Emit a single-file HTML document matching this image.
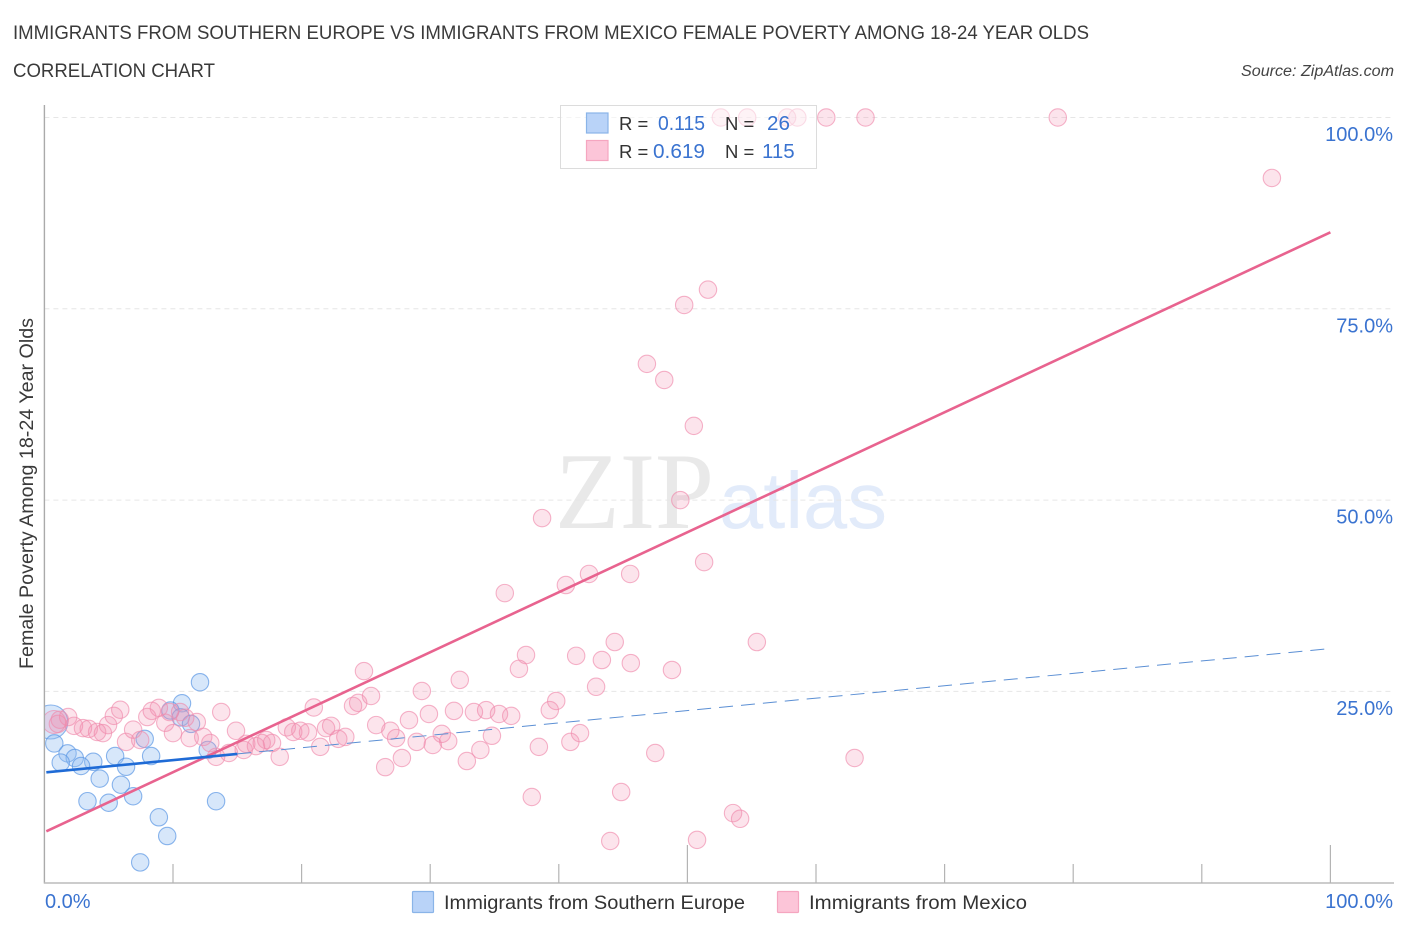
<!DOCTYPE html>
<html lang="en">
<head>
<meta charset="utf-8">
<title>Immigrants from Southern Europe vs Immigrants from Mexico Correlation Chart</title>
<style>
html,body{margin:0;padding:0;background:#fff;width:1406px;height:930px;overflow:hidden}
svg{display:block}
text{font-family:"Liberation Sans",sans-serif}
</style>
</head>
<body>
<svg id="chart" xmlns="http://www.w3.org/2000/svg" width="1406" height="930" viewBox="0 0 1406 930">
  <defs>
    <clipPath id="plot-clip"><rect x="45" y="100" width="1349" height="783"/></clipPath>
  </defs>
  <text x="13" y="39" font-size="19" fill="#3a3a3a" textLength="1076" lengthAdjust="spacingAndGlyphs">IMMIGRANTS FROM SOUTHERN EUROPE VS IMMIGRANTS FROM MEXICO FEMALE POVERTY AMONG 18-24 YEAR OLDS</text>
  <text x="13" y="77" font-size="19" fill="#3a3a3a" textLength="202" lengthAdjust="spacingAndGlyphs">CORRELATION CHART</text>
  <text x="1394" y="76" font-size="15.5" font-style="italic" fill="#444" text-anchor="end" textLength="153" lengthAdjust="spacingAndGlyphs">Source: ZipAtlas.com</text>

  <g>
    <text x="555" y="528" style="font-family:'Liberation Serif',serif" font-size="109" fill="#e9e9e9" textLength="159" lengthAdjust="spacingAndGlyphs">ZIP</text>
    <text x="719" y="528" font-size="80" fill="#e2ebfa" textLength="168" lengthAdjust="spacingAndGlyphs">atlas</text>
  </g>

  <g id="grid"></g>
  <g clip-path="url(#plot-clip)">
    <g id="blue-points"></g>
    <g id="pink-points"></g>
  </g>
  <g id="trends"></g>
  <g id="axes"></g>

  <text transform="translate(33,669) rotate(-90)" font-size="19" fill="#3a3a3a" textLength="351" lengthAdjust="spacingAndGlyphs">Female Poverty Among 18-24 Year Olds</text>

  <g>
    <rect x="560.5" y="105.5" width="256" height="63" fill="#fff" fill-opacity="0.55" stroke="#dcdcdc" stroke-width="1"/>
    <rect x="586.5" y="113" width="21.5" height="20" fill="#b9d3f8" stroke="#8ab4e8" stroke-width="1.2"/>
    <rect x="586.5" y="140.5" width="21.5" height="20" fill="#fcc5d8" stroke="#f5a6c0" stroke-width="1.2"/>
    <text x="619" y="130" font-size="18.5" fill="#333">R =</text>
    <text x="658" y="130" font-size="20.5" fill="#3a73d0" textLength="47" lengthAdjust="spacingAndGlyphs">0.115</text>
    <text x="725" y="130" font-size="18.5" fill="#333">N =</text>
    <text x="767" y="130" font-size="20.5" fill="#3a73d0" textLength="23" lengthAdjust="spacingAndGlyphs">26</text>
    <text x="619" y="158" font-size="18.5" fill="#333">R =</text>
    <text x="653" y="158" font-size="20.5" fill="#3a73d0" textLength="52" lengthAdjust="spacingAndGlyphs">0.619</text>
    <text x="725" y="158" font-size="18.5" fill="#333">N =</text>
    <text x="762" y="158" font-size="20.5" fill="#3a73d0">115</text>
  </g>

  <g>
    <rect x="412.5" y="891.5" width="21" height="21" rx="1" fill="#b9d3f8" stroke="#8ab4e8" stroke-width="1.2"/>
    <text x="444" y="909" font-size="19.5" fill="#333" textLength="301" lengthAdjust="spacingAndGlyphs">Immigrants from Southern Europe</text>
    <rect x="777.5" y="891.5" width="21" height="21" rx="1" fill="#fcc5d8" stroke="#f5a6c0" stroke-width="1.2"/>
    <text x="809" y="909" font-size="19.5" fill="#333" textLength="218" lengthAdjust="spacingAndGlyphs">Immigrants from Mexico</text>
  </g>
</svg>
<script>
const yTickValues = [25, 50, 75, 100];
const yTickLabels = ["25.0%", "50.0%", "75.0%", "100.0%"];
const xTickValues = [10, 20, 30, 40, 50, 60, 70, 80, 90, 100];
const xMajorTicks = [50, 100];
const xEndLabels = ["0.0%", "100.0%"];

// Trend endpoints (percent at x = 0 and x = 100); solid part of the blue fit ends at blueSolidEnd
const blueTrend = [14.4, 30.6];
const blueSolidEnd = 15;
const pinkTrend = [6.6, 85];

// The first point of each series is the large aggregated bubble
const blueX = [0.5,12.1,10.7,9.8,10.6,11.4,7.8,0.77,12.7,1.8,5.5,8.3,2.36,3.8,1.27,2.85,6.35,4.3,5.95,6.9,3.35,5.0,13.35,8.9,9.55,7.45];
const blueY = [21.0,26.2,23.45,22.5,21.6,20.75,18.8,18.2,17.35,16.9,16.55,16.55,16.3,15.8,15.7,15.25,15.15,13.6,12.8,11.3,10.65,10.45,10.65,8.55,6.1,2.65];

const pinkX = [0.75,1.2,1.85,2.3,3.0,3.45,4.1,4.55,4.95,5.4,5.9,6.35,6.9,7.45,8.0,8.35,8.9,9.4,10.0,10.55,11.85,13.75,11.3,12.35,12.9,13.35,14.35,14.9,15.5,15.7,16.45,16.9,17.25,17.7,18.3,18.85,19.35,19.9,20.5,20.95,21.45,21.9,22.3,22.85,23.4,24.0,24.4,24.85,25.4,25.8,26.5,26.9,27.35,27.8,28.35,28.95,29.35,29.9,30.2,30.9,31.4,31.85,32.3,32.85,33.4,33.9,34.35,34.8,35.35,36.3,36.9,37.45,37.9,38.45,39.3,39.8,40.9,41.35,41.65,42.9,43.35,44.35,44.85,44.0,45.6,47.5,48.8,50.75,53.55,54.1,55.4,63.0,35.8,40.55,42.35,45.55,51.3,38.7,49.45,50.5,48.2,46.85,49.75,51.6,52.6,54.65,57.75,58.55,60.8,63.85,78.8,95.45,10.95,9.75,1.05];
const pinkY = [21.0,21.3,21.65,20.5,20.2,20.1,19.7,19.55,20.6,21.8,22.6,18.4,20.0,18.65,21.65,22.45,22.85,20.9,19.55,22.3,21.0,22.3,18.9,19.05,18.25,16.45,16.95,19.85,17.35,18.15,17.85,18.25,18.65,18.25,16.45,20.3,19.7,19.85,19.65,22.9,17.75,20.2,20.5,18.8,19.05,23.1,23.5,27.65,24.4,20.6,15.1,19.85,18.9,16.3,21.25,18.4,25.05,22.05,18.0,19.45,18.5,22.45,26.5,15.9,22.3,17.35,22.55,19.2,22.05,21.8,27.95,29.75,11.2,17.75,22.55,23.75,18.4,29.65,19.55,25.6,29.1,31.45,11.85,5.45,28.7,16.95,27.8,5.6,9.1,8.35,31.45,16.3,37.85,38.9,40.35,40.35,41.9,47.65,50.0,59.7,65.7,67.8,75.5,77.5,100,100,100,100,100,100,100,92.1,21.55,22.3,20.75];

const SVG_NS = "http://www.w3.org/2000/svg";
const xScale = v => 44.4 + 12.86 * v;
const yScale = v => 882.7 - 7.652 * v;

function make(tag, attrs, parent) {
  const el = document.createElementNS(SVG_NS, tag);
  for (const k in attrs) el.setAttribute(k, attrs[k]);
  parent.appendChild(el);
  return el;
}

const grid = document.getElementById("grid");
const axes = document.getElementById("axes");
const trends = document.getElementById("trends");
const bluePts = document.getElementById("blue-points");
const pinkPts = document.getElementById("pink-points");

yTickValues.forEach((v, i) => {
  const line = make("line", {x1: 44.4, x2: 1394, y1: yScale(v), y2: yScale(v), stroke: "#e6e6e6", "stroke-width": 1, "stroke-dasharray": "5 4"}, grid);
  
  
  const label = make("text", {x: 1393, y: yScale(v) + 23.5, "text-anchor": "end", "font-size": 20, fill: "#3a73d0"}, axes);
  label.textContent = yTickLabels[i];
  
  
});

const ySpine = make("line", {x1: 44.4, x2: 44.4, y1: 105, y2: 883.5, stroke: "#aaa", "stroke-width": 1.4}, axes);


const xSpine = make("line", {x1: 44, x2: 1394, y1: 883, y2: 883, stroke: "#bbb", "stroke-width": 1.6}, axes);



xTickValues.forEach(v => {
  const top = xMajorTicks.includes(v) ? 845 : 864;
  const tick = make("line", {x1: xScale(v), x2: xScale(v), y1: top, y2: 883, stroke: "#b4b4b4", "stroke-width": 1.2}, axes);
  
  
});

const xLabelLeft = make("text", {x: 45, y: 908, "font-size": 20, fill: "#3a73d0"}, axes);
xLabelLeft.textContent = xEndLabels[0];


const xLabelRight = make("text", {x: 1393, y: 908, "text-anchor": "end", "font-size": 20, fill: "#3a73d0"}, axes);
xLabelRight.textContent = xEndLabels[1];



const blueAt = x => blueTrend[0] + (blueTrend[1] - blueTrend[0]) * x / 100;
const pinkAt = x => pinkTrend[0] + (pinkTrend[1] - pinkTrend[0]) * x / 100;

blueX.forEach((x, i) => {
  const c = make("circle", {cx: xScale(x), cy: yScale(blueY[i]), r: i === 0 ? 17 : 8.7, fill: "#90bdf0", "fill-opacity": 0.36, stroke: "#5b97e4", "stroke-opacity": 0.7, "stroke-width": 1.1}, bluePts);
  
  
});

pinkX.forEach((x, i) => {
  const c = make("circle", {cx: xScale(x), cy: yScale(pinkY[i]), r: i === 0 ? 11.5 : 8.7, fill: "#f48fb1", "fill-opacity": 0.24, stroke: "#f08aac", "stroke-opacity": 0.65, "stroke-width": 1.1}, pinkPts);
  
  
});

const blueDash = make("line", {x1: xScale(blueSolidEnd), y1: yScale(blueAt(blueSolidEnd)), x2: xScale(100), y2: yScale(blueAt(100)), stroke: "#5b8fd4", "stroke-width": 1, "stroke-dasharray": "14 8"}, trends);


const pinkLine = make("line", {x1: xScale(0.15), y1: yScale(pinkAt(0.15)), x2: xScale(100), y2: yScale(pinkAt(100)), stroke: "#e8638f", "stroke-width": 2.6}, trends);


const blueLine = make("line", {x1: xScale(0.15), y1: yScale(blueAt(0.15)), x2: xScale(blueSolidEnd), y2: yScale(blueAt(blueSolidEnd)), stroke: "#1f6bd6", "stroke-width": 2.6}, trends);


</script>
</body>
</html>
